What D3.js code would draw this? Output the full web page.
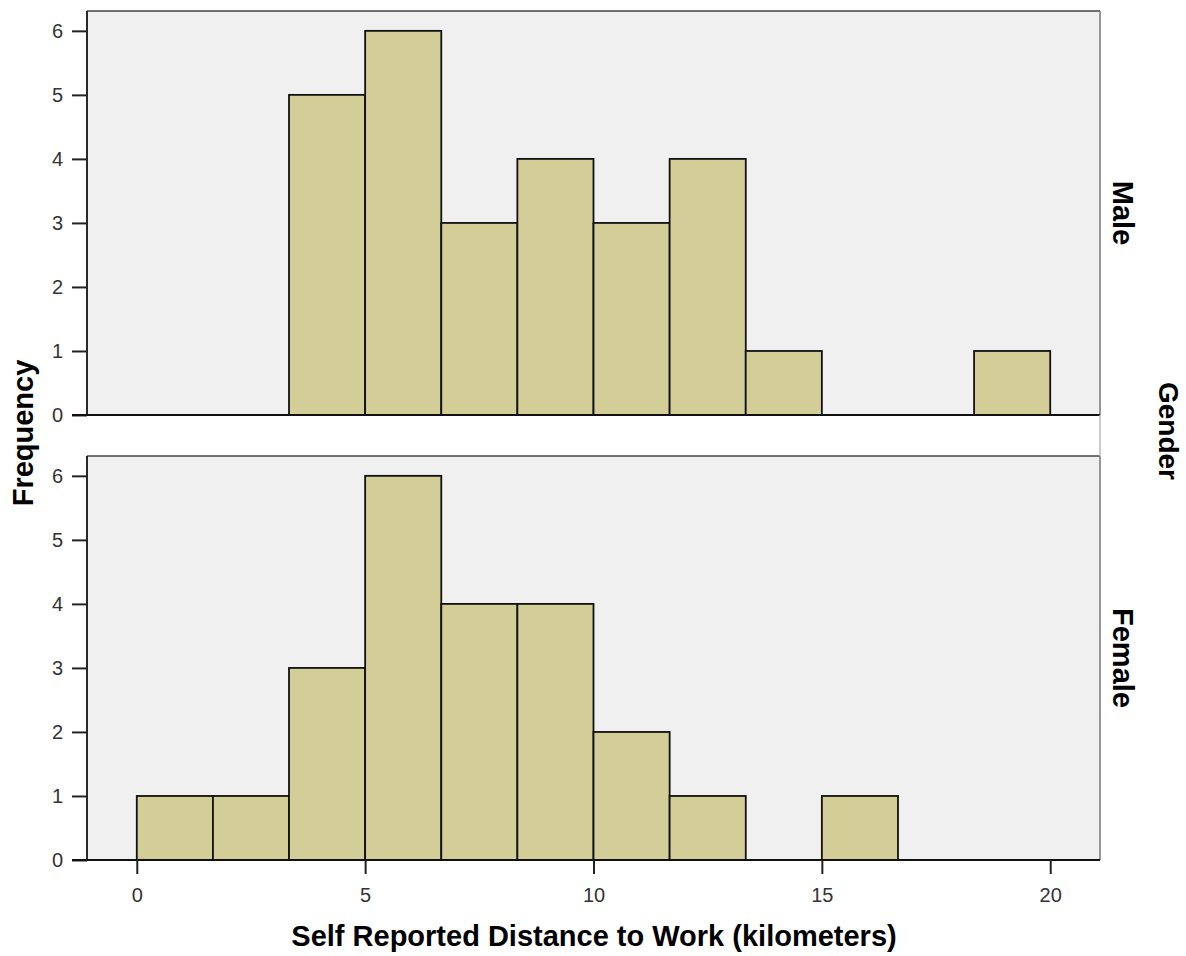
<!DOCTYPE html>
<html>
<head>
<meta charset="utf-8">
<script src="https://cdn.jsdelivr.net/npm/d3@7"></script>
<style>
  body { margin: 0; background: #fff; }
  text { font-family: "Liberation Sans", Arial, sans-serif; }
</style>
</head>
<body>
<svg width="1186" height="956"></svg>
<script>
// bins of the histogram (km), lower edges
const binStarts = [0, 1.667, 3.333, 5, 6.667, 8.333, 10, 11.667, 13.333, 15, 16.667, 18.333];
const binWidth = 1.667;
const maleCounts = [0, 0, 5, 6, 3, 4, 3, 4, 1, 0, 0, 1];
const femaleCounts = [1, 1, 3, 6, 4, 4, 2, 1, 0, 1, 0, 0];
const panels = ["Male", "Female"];
const xTicks = [0, 5, 10, 15, 20];
const yTicks = [0, 1, 2, 3, 4, 5, 6];

const svg = d3.select("svg");
const left = 87, right = 1100;
const panelTops = [11, 456];
const panelBottoms = [415, 860];

const x = d3.scaleLinear().domain([-1.09, 21.09]).range([left, right]);

const series = [maleCounts, femaleCounts];

series.forEach((counts, p) => {
  const y = d3.scaleLinear().domain([0, 6.31]).range([panelBottoms[p], panelTops[p]]);
  const g = svg.append("g");

  // background
  g.append("rect")
    .attr("x", left).attr("y", panelTops[p])
    .attr("width", right - left).attr("height", panelBottoms[p] - panelTops[p])
    .attr("fill", "#f0f0f0");

  // bars
  const bins = binStarts.map((s, i) => ({start: s, count: counts[i]})).filter(d => d.count > 0);
  g.selectAll("rect.bar")
    .data(bins)
    .enter()
    .append("rect")
    .attr("class", "bar")
    .attr("x", d => x(d.start))
    .attr("y", d => y(d.count))
    .attr("width", d => x(d.start + binWidth) - x(d.start))
    .attr("height", d => y(0) - y(d.count))
    .attr("fill", "#d3ce97")
    .attr("stroke", "#111")
    .attr("stroke-width", 1.8);

  // frame: top + right
  g.append("line").attr("x1", left).attr("x2", right)
    .attr("y1", panelTops[p]).attr("y2", panelTops[p])
    .attr("stroke", "#444").attr("stroke-width", 1.6);
  g.append("line").attr("x1", right).attr("x2", right)
    .attr("y1", panelTops[p]).attr("y2", panelBottoms[p])
    .attr("stroke", "#777").attr("stroke-width", 1.5);

  // y axis
  const yAxis = d3.axisLeft(y).tickValues(yTicks).tickFormat(d3.format("d"))
    .tickSize(15).tickPadding(9).tickSizeOuter(0);
  const ya = g.append("g").attr("transform", `translate(${left},0)`).call(yAxis);
  ya.select(".domain").attr("stroke", "#111").attr("stroke-width", 1.8)
    .attr("d", `M0,${panelTops[p]}V${panelBottoms[p]}`);
  ya.selectAll(".tick line").attr("stroke", "#222").attr("stroke-width", 2);
  ya.selectAll(".tick text").attr("fill", "#333")
    .style("font-family", "'Liberation Sans', Arial, sans-serif").style("font-size", "20px");

  // baseline
  g.append("line").attr("x1", left - 15).attr("x2", right)
    .attr("y1", panelBottoms[p]).attr("y2", panelBottoms[p])
    .attr("stroke", "#111").attr("stroke-width", 2);

  // panel label
  const cy = (panelTops[p] + panelBottoms[p]) / 2;
  g.append("text")
    .attr("transform", `translate(1113,${cy}) rotate(90)`)
    .attr("text-anchor", "middle")
    .attr("font-size", 29).attr("font-weight", "bold")
    .text(panels[p]);
});

// gap segment of right frame
svg.append("line").attr("x1", right).attr("x2", right)
  .attr("y1", panelBottoms[0]).attr("y2", panelTops[1])
  .attr("stroke", "#bbb").attr("stroke-width", 1.5);

// x axis
const xAxis = d3.axisBottom(x).tickValues(xTicks).tickSize(14).tickPadding(14).tickSizeOuter(0);
const xa = svg.append("g").attr("transform", `translate(0,${panelBottoms[1]})`).call(xAxis);
xa.select(".domain").remove();
xa.selectAll(".tick line").attr("stroke", "#222").attr("stroke-width", 2);
xa.selectAll(".tick text").attr("fill", "#333")
  .style("font-family", "'Liberation Sans', Arial, sans-serif").style("font-size", "20px");

// titles
svg.append("text")
  .attr("x", 594).attr("y", 946)
  .attr("text-anchor", "middle")
  .attr("font-size", 29).attr("font-weight", "bold")
  .text("Self Reported Distance to Work (kilometers)");

svg.append("text")
  .attr("transform", "translate(33,433) rotate(-90)")
  .attr("text-anchor", "middle")
  .attr("font-size", 29).attr("font-weight", "bold")
  .text("Frequency");

svg.append("text")
  .attr("transform", "translate(1159,431) rotate(90)")
  .attr("text-anchor", "middle")
  .attr("font-size", 28).attr("font-weight", "bold")
  .text("Gender");
</script>
</body>
</html>
